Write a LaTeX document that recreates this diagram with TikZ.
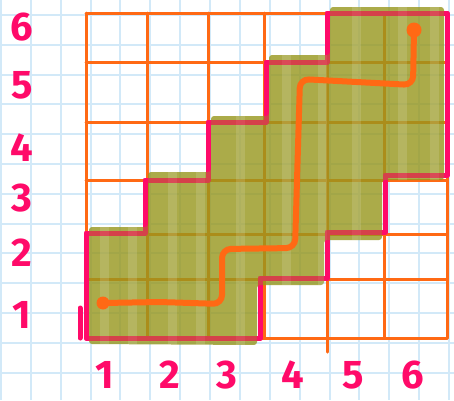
\documentclass[tikz,border=0pt]{standalone}
\usepackage{fontspec}
\setmainfont{Fira Sans}
\usetikzlibrary{positioning}
\definecolor{paper}{RGB}{210,233,248}
\definecolor{grid}{RGB}{255,105,20}
\definecolor{rim}{RGB}{255,10,105}
\definecolor{moss}{RGB}{150,150,28}

\begin{document}
\begin{tikzpicture}[x=1pt,y=-1pt,
    paperline/.style={draw=paper,line width=2pt},
    gridline/.style={draw=grid,line width=3pt,line cap=round},
    rimline/.style={draw=rim,line width=5pt,line join=round,line cap=round},
    route/.style={draw=grid,line width=6pt,rounded corners=9pt,line cap=round},
    digit/.style={text=rim,font=\bfseries\fontsize{40}{40}\selectfont,inner sep=0pt}]
\useasboundingbox (0,0) rectangle (454,400);
\fill[white] (0,0) rectangle (454,400);
% squared paper
\foreach \i in {0,...,15}
    \draw[paperline] ({1+29.87*\i},0) -- ({1+29.87*\i},400);
\foreach \i in {0,...,13}
    \draw[paperline] (0,{15+29.8*\i}) -- (454,{15+29.8*\i});
% the 6x6 grid
\foreach \x in {86,147,208,264,384,447}
    \draw[gridline] (\x,13) -- (\x,338);
\draw[gridline] (327,13) -- (327,352);
\foreach \y in {13,62,122,180,234,279,338}
    \draw[gridline] (86,\y) -- (447,\y);
% outline of the staircase
\def\rimpath{(86,338) -- (86,233) -- (145,233) -- (145,180) -- (208,180)
    -- (208,122) -- (266,122) -- (266,62) -- (327,62) -- (327,13) -- (447,13)
    -- (447,175) -- (385,175) -- (385,232) -- (327,232) -- (327,278)
    -- (260,278) -- (260,338) -- cycle}
\draw[rimline] \rimpath;
\draw[rimline] (80,308) -- (80,338);
% shaded staircase
\begin{scope}
\path[clip,rounded corners=3pt]
    (89,344) -- (89,227) -- (148,227) -- (148,172) -- (211,172) -- (211,116)
    -- (269,116) -- (269,55) -- (330,55) -- (330,7) -- (444,7) -- (444,180)
    -- (382,180) -- (382,240) -- (324,240) -- (324,285) -- (257,285) -- (257,345) -- cycle;
\fill[moss,opacity=0.8] (80,0) rectangle (454,350);
\foreach \x in {100,128,168,196,236,282,318,352,398,430}
    \fill[white,opacity=0.13] (\x,0) rectangle ({\x+9},350);
\end{scope}
\draw[rimline,opacity=0.5] \rimpath;
% route through the cells
\coordinate (start) at (103,303);
\coordinate (finish) at (414,30);
\draw[route] (start) -- (160,302) -- (222,304) -- (222,249) -- (295,248)
    -- (300,79) -- (413,85) -- (finish);
\fill[grid] (start) circle (6.5);
\fill[grid] (finish) circle (7.5);
% numbers
\foreach \n/\y in {6/27,5/85,4/148,3/198,2/253,1/315}
    \node[digit] (row\n) at (22,\y) {\n};
\foreach \n/\x in {1/105,2/170,3/227,4/293,5/353,6/413}
    \node[digit] (col\n) at (\x,375) {\n};
\end{tikzpicture}
\end{document}
